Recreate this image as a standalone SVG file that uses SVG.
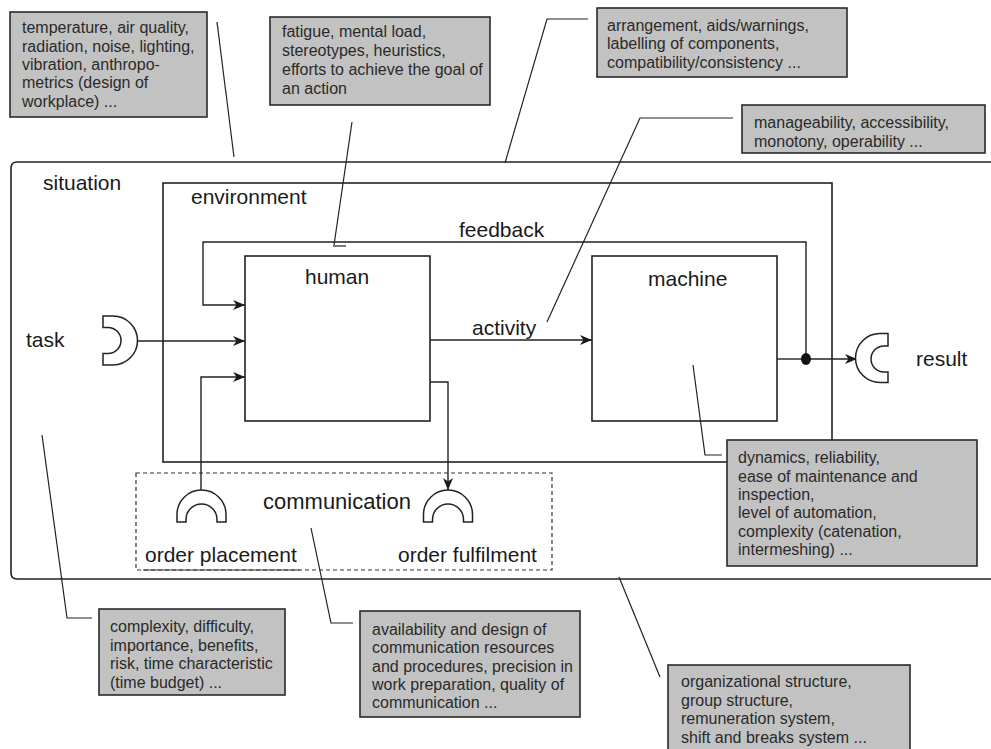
<svg xmlns="http://www.w3.org/2000/svg" width="991" height="749" viewBox="0 0 991 749">
<style>
  .lbl { font-family: "Liberation Sans", Arial, sans-serif; font-size: 21px; fill: #1a1a1a; }
  .box rect { fill: #c2c2c2; stroke: #2a2a2a; stroke-width: 1.6; }
  .box text { font-family: "Liberation Sans", Arial, sans-serif; font-size: 16px; fill: #2a2a2a; }
  .frame { fill: none; stroke: #222; stroke-width: 1.6; }
  .sym { fill: #fff; stroke: #222; stroke-width: 1.5; }
  .flow { fill: none; stroke: #222; stroke-width: 1.4; }
  .lead { fill: none; stroke: #222; stroke-width: 1.2; }
</style>
<defs>
  <marker id="arr" markerUnits="userSpaceOnUse" markerWidth="13" markerHeight="11" refX="12" refY="5" orient="auto">
    <path d="M0,0 L12,5 L0,10 L3.5,5 Z" fill="#1a1a1a"/>
  </marker>
</defs>
<rect width="991" height="749" fill="#fff"/>

<g id="situation">
  <path class="frame" d="M995,162 L17,162 Q11,162 11,168 L11,573 Q11,579 17,579 L995,579" stroke-width="2"/>
  <text class="lbl" x="43" y="190">situation</text>
</g>

<g id="environment">
  <rect class="frame" x="163" y="183" width="669" height="279"/>
  <text class="lbl" x="191" y="204">environment</text>
</g>

<g id="communication">
  <rect x="136" y="473" width="416" height="97" fill="none" stroke="#333" stroke-width="1.2" stroke-dasharray="4,3"/>
  <line x1="143" y1="570" x2="300" y2="570" stroke="#333" stroke-width="1.2"/>
  <text class="lbl" x="263" y="509" style="font-size:22px">communication</text>
</g>

<g id="human">
  <rect class="frame" x="245" y="256" width="185" height="165" fill="#fff"/>
  <text class="lbl" x="305" y="284">human</text>
</g>

<g id="machine">
  <rect class="frame" x="592" y="256" width="185" height="165" fill="#fff"/>
  <text class="lbl" x="648" y="286">machine</text>
</g>

<g id="connectors">
  <!-- task -> human -->
  <line class="flow" x1="137" y1="341" x2="245" y2="341" marker-end="url(#arr)"/>
  <!-- feedback -->
  <path class="flow" d="M806,359 L806,242 L203,242 L203,305 L245,305" marker-end="url(#arr)"/>
  <text class="lbl" x="459" y="237">feedback</text>
  <!-- order placement -> human -->
  <path class="flow" d="M201,490 L201,377 L245,377" marker-end="url(#arr)"/>
  <!-- human -> order fulfilment -->
  <path class="flow" d="M430,382 L448,382 L448,490" marker-end="url(#arr)"/>
  <!-- activity -->
  <line class="flow" x1="430" y1="340" x2="592" y2="340" marker-end="url(#arr)"/>
  <text class="lbl" x="472" y="335">activity</text>
  <!-- machine -> result -->
  <line class="flow" x1="777" y1="359" x2="806" y2="359"/>
  <line class="flow" x1="806" y1="359" x2="857" y2="359" marker-end="url(#arr)"/>
  <ellipse cx="806" cy="359" rx="5" ry="6" fill="#111"/>
  <!-- annotation leaders -->
  <line class="lead" x1="217" y1="22" x2="234" y2="157"/>
  <line class="lead" x1="352" y1="122" x2="334" y2="245"/>
  <line class="lead" x1="333" y1="246" x2="346" y2="246"/>
  <path class="lead" d="M588,19 L547,19 L505,163"/>
  <path class="lead" d="M733,118 L640,118 L547,322"/>
  <path class="lead" d="M693,365 L705,455 L722,455"/>
  <path class="lead" d="M42,435 L67,618 L92,618"/>
  <path class="lead" d="M311,528 L331,623 L353,623"/>
  <line class="lead" x1="619" y1="577" x2="660" y2="677"/>
</g>

<g id="task">
  <path class="sym" d="M103,316 L113,316 A24.5,24.5 0 0 1 113,365 L103,365 L103,353.5 L108,353.5 A13,13 0 0 0 108,327.5 L103,327.5 Z"/>
  <text class="lbl" x="26" y="347">task</text>
</g>

<g id="result">
  <path class="sym" d="M888,333.5 L880,333.5 A24.5,24.5 0 0 0 880,382.5 L888,382.5 L888,372 L884,372 A13,13 0 0 1 884,346 L888,346 Z"/>
  <text class="lbl" x="916" y="366">result</text>
</g>

<g id="order-placement">
  <path class="sym" d="M177,522 L177,514.5 A24.5,24.5 0 0 1 226,514.5 L226,522 L217,522 L217,519.5 A15.5,15.5 0 0 0 186,519.5 L186,522 Z"/>
  <text class="lbl" x="145" y="562">order placement</text>
</g>

<g id="order-fulfilment">
  <path class="sym" d="M423.5,522 L423.5,514.5 A24.5,24.5 0 0 1 472.5,514.5 L472.5,522 L463.5,522 L463.5,519.5 A15.5,15.5 0 0 0 432.5,519.5 L432.5,522 Z"/>
  <text class="lbl" x="398" y="562">order fulfilment</text>
</g>

<g id="note-environment" class="box">
  <rect x="10" y="12" width="197" height="105"/>
  <text x="22" y="33">temperature, air quality,</text>
  <text x="22" y="52">radiation, noise, lighting,</text>
  <text x="22" y="70">vibration, anthropo-</text>
  <text x="22" y="88">metrics (design of</text>
  <text x="22" y="107">workplace) ...</text>
</g>

<g id="note-human" class="box">
  <rect x="270" y="17" width="220" height="88"/>
  <text x="282" y="37">fatigue, mental load,</text>
  <text x="282" y="56">stereotypes, heuristics,</text>
  <text x="282" y="75">efforts to achieve the goal of</text>
  <text x="282" y="94">an action</text>
</g>

<g id="note-interface" class="box">
  <rect x="597" y="8" width="250" height="69"/>
  <text x="607" y="31">arrangement, aids/warnings,</text>
  <text x="607" y="49">labelling of components,</text>
  <text x="607" y="68">compatibility/consistency ...</text>
</g>

<g id="note-activity" class="box">
  <rect x="742" y="105" width="243" height="48"/>
  <text x="754" y="128">manageability, accessibility,</text>
  <text x="754" y="147">monotony, operability ...</text>
</g>

<g id="note-machine" class="box">
  <rect x="727" y="440" width="250" height="126"/>
  <text x="738" y="463">dynamics, reliability,</text>
  <text x="738" y="482">ease of maintenance and</text>
  <text x="738" y="500">inspection,</text>
  <text x="738" y="518">level of automation,</text>
  <text x="738" y="537">complexity (catenation,</text>
  <text x="738" y="555">intermeshing) ...</text>
</g>

<g id="note-task" class="box">
  <rect x="99" y="609" width="186" height="86"/>
  <text x="110" y="632">complexity, difficulty,</text>
  <text x="110" y="651">importance, benefits,</text>
  <text x="110" y="669">risk, time characteristic</text>
  <text x="110" y="688">(time budget) ...</text>
</g>

<g id="note-communication" class="box">
  <rect x="360" y="611" width="220" height="106"/>
  <text x="372" y="635">availability and design of</text>
  <text x="372" y="653">communication resources</text>
  <text x="372" y="672">and procedures, precision in</text>
  <text x="372" y="690">work preparation, quality of</text>
  <text x="372" y="708">communication ...</text>
</g>

<g id="note-situation" class="box">
  <rect x="668" y="665" width="242" height="90"/>
  <text x="681" y="687">organizational structure,</text>
  <text x="681" y="706">group structure,</text>
  <text x="681" y="724">remuneration system,</text>
  <text x="681" y="743">shift and breaks system ...</text>
</g>
</svg>
